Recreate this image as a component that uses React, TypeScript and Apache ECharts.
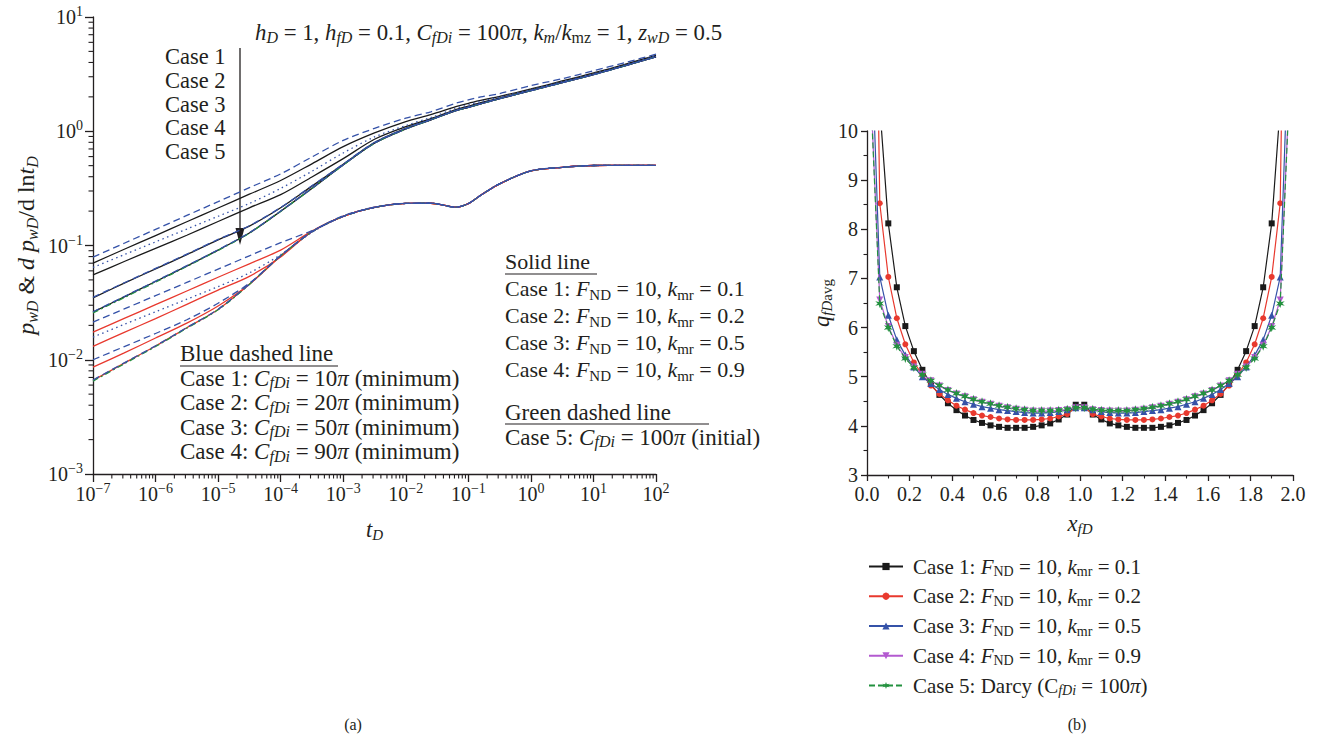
import React, { useEffect, useRef } from "react";
import * as echarts from "echarts";

// ---------------- Panel (a): log-log type curves ----------------
const tD = [1e-7, 3.16e-7, 1e-6, 3.16e-6, 1e-5, 3.16e-5, 1e-4, 3.16e-4, 1e-3, 3.16e-3, 1e-2, 2.51e-2, 6.31e-2, 1e-1, 1.58e-1, 3.16e-1, 1, 3.16, 10, 31.6, 100];

// pressure, solid black (cases 1-4)
const pSolid1 = [0.0702, 0.0927, 0.1222, 0.1614, 0.2128, 0.2812, 0.3707, 0.5188, 0.7328, 0.9661, 1.216, 1.396, 1.641, 1.758, 1.862, 2.018, 2.344, 2.754, 3.236, 3.846, 4.624];
const pSolid2 = [0.0553, 0.0724, 0.0944, 0.123, 0.1622, 0.2138, 0.2786, 0.3981, 0.5754, 0.8511, 1.096, 1.288, 1.549, 1.66, 1.778, 1.95, 2.291, 2.692, 3.162, 3.758, 4.519];
const pSolid3 = [0.0348, 0.0468, 0.0624, 0.0832, 0.1122, 0.1479, 0.2138, 0.3311, 0.5129, 0.7943, 1.059, 1.259, 1.514, 1.622, 1.738, 1.928, 2.265, 2.661, 3.126, 3.733, 4.487];
const pSolid4 = [0.0261, 0.0355, 0.0484, 0.0661, 0.0912, 0.1288, 0.1995, 0.3162, 0.507, 0.7852, 1.047, 1.259, 1.514, 1.622, 1.738, 1.928, 2.265, 2.661, 3.126, 3.733, 4.487];
// pressure, blue dashed (minimum CfDi, cases 1-4)
const pBlue1 = [0.0791, 0.1047, 0.1384, 0.1832, 0.2421, 0.3206, 0.4236, 0.5957, 0.8318, 1.059, 1.303, 1.479, 1.758, 1.884, 1.995, 2.138, 2.512, 2.884, 3.388, 3.981, 4.732];
const pBlue2 = [0.0643, 0.0832, 0.1076, 0.1393, 0.1803, 0.2333, 0.3162, 0.4467, 0.6457, 0.8913, 1.122, 1.318, 1.585, 1.698, 1.82, 1.995, 2.317, 2.723, 3.199, 3.802, 4.571];
const pBlue3 = [0.0352, 0.0472, 0.063, 0.084, 0.113, 0.149, 0.215, 0.333, 0.516, 0.797, 1.062, 1.262, 1.518, 1.626, 1.742, 1.932, 2.27, 2.667, 3.133, 3.741, 4.5];
const pBlue4 = [0.0263, 0.0358, 0.0488, 0.0666, 0.0918, 0.1296, 0.2005, 0.3175, 0.5085, 0.787, 1.049, 1.262, 1.517, 1.625, 1.741, 1.931, 2.268, 2.664, 3.13, 3.737, 4.492];
// pressure, green dashed (case 5)
const pGreen5 = [0.0257, 0.035, 0.0478, 0.0655, 0.0906, 0.1282, 0.199, 0.3155, 0.5062, 0.7845, 1.046, 1.258, 1.513, 1.621, 1.737, 1.927, 2.264, 2.66, 3.125, 3.732, 4.486];

// derivative, common late-time part (from tD = 1e-3)
const dTail = [0.1799, 0.2153, 0.2333, 0.2344, 0.2163, 0.2328, 0.2754, 0.3467, 0.4498, 0.4831, 0.5012, 0.5023, 0.5023];
const dSolid1 = [0.01746, 0.02301, 0.03034, 0.03999, 0.05272, 0.06918, 0.0912, 0.1335, ...dTail];
const dSolid2 = [0.01308, 0.01738, 0.02291, 0.03055, 0.04074, 0.0537, 0.07943, 0.1325, ...dTail];
const dSolid3 = [0.00861, 0.01148, 0.01549, 0.02089, 0.02951, 0.04571, 0.08035, 0.1318, ...dTail];
const dSolid4 = [0.00659, 0.00933, 0.01318, 0.01905, 0.02754, 0.04571, 0.08128, 0.1318, ...dTail];
const dBlue1 = [0.02133, 0.02786, 0.03639, 0.04753, 0.06209, 0.08128, 0.1059, 0.1349, 0.182, 0.2165, 0.234, 0.235, 0.2168, 0.2332, 0.2758, 0.347, 0.45, 0.4832, 0.5012, 0.5023, 0.5023];
const dBlue2 = [0.01578, 0.02042, 0.0263, 0.03388, 0.04365, 0.05754, 0.08318, 0.1303, ...dTail];
const dBlue3 = [0.01, 0.01303, 0.01698, 0.02239, 0.03126, 0.04677, 0.08128, 0.1318, ...dTail];
const dBlue4 = [0.00665, 0.0094, 0.01325, 0.01915, 0.0277, 0.0459, 0.0815, 0.132, ...dTail];
const dGreen5 = [0.0065, 0.00922, 0.01305, 0.0189, 0.0274, 0.0456, 0.0812, 0.1317, ...dTail];

// ---------------- Panel (b): flux distribution ----------------
const xfD = [0.02, 0.06, 0.1, 0.14, 0.18, 0.22, 0.26, 0.3, 0.34, 0.38, 0.42, 0.46, 0.5, 0.54, 0.58, 0.62, 0.66, 0.7, 0.74, 0.78, 0.82, 0.86, 0.9, 0.94, 0.98,
  1.02, 1.06, 1.1, 1.14, 1.18, 1.22, 1.26, 1.3, 1.34, 1.38, 1.42, 1.46, 1.5, 1.54, 1.58, 1.62, 1.66, 1.7, 1.74, 1.78, 1.82, 1.86, 1.9, 1.94, 1.98];
const qCase1 = [20.0, 10.5, 8.12, 6.82, 6.03, 5.52, 5.14, 4.85, 4.63, 4.46, 4.32, 4.21, 4.12, 4.06, 4.01, 3.98, 3.96, 3.96, 3.96, 3.98, 4.01, 4.05, 4.13, 4.23, 4.43,
  4.43, 4.23, 4.13, 4.05, 4.01, 3.98, 3.96, 3.96, 3.96, 3.98, 4.01, 4.06, 4.12, 4.21, 4.32, 4.46, 4.63, 4.85, 5.14, 5.52, 6.03, 6.82, 8.12, 10.5, 20.0];
const qCase2 = [20.3, 8.53, 7.03, 6.19, 5.66, 5.29, 5.04, 4.82, 4.65, 4.52, 4.41, 4.33, 4.26, 4.21, 4.18, 4.15, 4.13, 4.12, 4.12, 4.12, 4.13, 4.15, 4.19, 4.24, 4.37,
  4.37, 4.24, 4.19, 4.15, 4.13, 4.12, 4.12, 4.12, 4.13, 4.15, 4.18, 4.21, 4.26, 4.33, 4.41, 4.52, 4.65, 4.82, 5.04, 5.29, 5.66, 6.19, 7.03, 8.53, 20.3];
const qCase3 = [12.0, 7.03, 6.25, 5.75, 5.44, 5.2, 5.0, 4.86, 4.74, 4.64, 4.56, 4.49, 4.44, 4.39, 4.36, 4.33, 4.31, 4.29, 4.27, 4.26, 4.26, 4.27, 4.29, 4.33, 4.37,
  4.37, 4.33, 4.29, 4.27, 4.26, 4.26, 4.27, 4.29, 4.31, 4.33, 4.36, 4.39, 4.44, 4.49, 4.56, 4.64, 4.74, 4.86, 5.0, 5.2, 5.44, 5.75, 6.25, 7.03, 12.0];
const qCase4 = [10.6, 6.56, 6.02, 5.64, 5.39, 5.2, 5.05, 4.92, 4.81, 4.72, 4.65, 4.59, 4.53, 4.48, 4.44, 4.4, 4.37, 4.34, 4.32, 4.3, 4.3, 4.3, 4.31, 4.33, 4.37,
  4.37, 4.33, 4.31, 4.3, 4.3, 4.3, 4.32, 4.34, 4.37, 4.4, 4.44, 4.48, 4.53, 4.59, 4.65, 4.72, 4.81, 4.92, 5.05, 5.2, 5.39, 5.64, 6.02, 6.56, 10.6];
const qCase5 = [10.5, 6.49, 6.0, 5.62, 5.37, 5.19, 5.04, 4.92, 4.82, 4.73, 4.66, 4.6, 4.54, 4.49, 4.45, 4.41, 4.38, 4.35, 4.33, 4.31, 4.31, 4.31, 4.32, 4.34, 4.37,
  4.37, 4.34, 4.32, 4.31, 4.31, 4.31, 4.33, 4.35, 4.38, 4.41, 4.45, 4.49, 4.54, 4.6, 4.66, 4.73, 4.82, 4.92, 5.04, 5.19, 5.37, 5.62, 6.0, 6.49, 10.5];

const caseNames = ["Case 1", "Case 2", "Case 3", "Case 4", "Case 5"];
const legendLabels = [
  "{n|Case 1: }{i|F}{r|ND}{n| = 10, }{i|k}{r|mr}{n| = 0.1}",
  "{n|Case 2: }{i|F}{r|ND}{n| = 10, }{i|k}{r|mr}{n| = 0.2}",
  "{n|Case 3: }{i|F}{r|ND}{n| = 10, }{i|k}{r|mr}{n| = 0.5}",
  "{n|Case 4: }{i|F}{r|ND}{n| = 10, }{i|k}{r|mr}{n| = 0.9}",
  "{n|Case 5: Darcy (C}{s|fDi}{n| = 100}{i|π}{n|)}",
];

// ---------------- styling ----------------
const SERIF = '"Liberation Serif", "Times New Roman", Times, serif';
const INK = "#231f20";
const BLACK = "#1a1a1a";
const RED = "#e8392e";
const BLUE = "#3552a8";
const MAGENTA = "#b35ad0";
const GREEN = "#23913f";

function rich(fs: number, lh: number) {
  const sub = Math.round(fs * 0.68);
  const base = { fontFamily: SERIF, color: INK };
  return {
    n: { ...base, fontSize: fs, lineHeight: lh },
    i: { ...base, fontSize: fs, lineHeight: lh, fontStyle: "italic" },
    s: { ...base, fontSize: sub, lineHeight: lh, height: sub, fontStyle: "italic", verticalAlign: "bottom" },
    r: { ...base, fontSize: sub, lineHeight: lh, height: sub, verticalAlign: "bottom" },
    u: { ...base, fontSize: sub, lineHeight: lh, height: sub - 3, verticalAlign: "top" },
  };
}

const pairs = (xs: number[], ys: number[]) => xs.map((x, i) => [x, ys[i]]);

function leftLine(name: string, data: number[], color: string, type: any, z: number) {
  return {
    name, type: "line", xAxisIndex: 0, yAxisIndex: 0, data: pairs(tD, data),
    showSymbol: false, symbol: "none", smooth: 0.3, silent: true, z,
    lineStyle: { color, width: 1.3, type },
  };
}

function rightLine(name: string, data: number[], color: string, symbol: string, size: number, rotate: number, dashed: boolean, z: number) {
  return {
    name, type: "line", xAxisIndex: 1, yAxisIndex: 1, data: pairs(xfD, data),
    symbol, symbolSize: size, symbolRotate: rotate, showSymbol: true, silent: true, z,
    itemStyle: { color },
    lineStyle: { color, width: 1.2, type: dashed ? [6, 3] : "solid" },
  };
}

function decadeMinors(from: number, to: number) {
  const out: number[] = [];
  for (let e = from; e < to; e++) for (let k = 2; k <= 9; k++) out.push(k * Math.pow(10, e));
  return out;
}

function logLabel(v: number) {
  const e = Math.round(Math.log10(v));
  return `{b|10}{u|${e < 0 ? "\u2212" : ""}${Math.abs(e)}}`;
}

const tickRich = (() => {
  const r = rich(20, 22);
  return { b: r.n, u: r.u };
})();

const axisCommon = {
  axisLine: { onZero: false, lineStyle: { color: INK, width: 1.3 } },
  axisTick: { length: 8, lineStyle: { color: INK, width: 1.3 } },
  splitLine: { show: false },
  nameLocation: "middle",
};

function buildOption() {
  const starPath = "path://M0,-10L2,-3.46L8.66,-5L4,0L8.66,5L2,3.46L0,10L-2,3.46L-8.66,5L-4,0L-8.66,-5L-2,-3.46Z";

  const minorTickSeries = (axis: "x" | "y") => ({
    type: "custom", xAxisIndex: 0, yAxisIndex: 0, silent: true, clip: false, z: 3,
    data: axis === "x" ? decadeMinors(-7, 2).map((v) => [v, 1e-3]) : decadeMinors(-3, 1).map((v) => [1e-7, v]),
    renderItem: (params: any, api: any) => {
      const p = api.coord([api.value(0), api.value(1)]);
      const shape = axis === "x"
        ? { x1: p[0], y1: p[1], x2: p[0], y2: p[1] + 4.5 }
        : { x1: p[0] - 4.5, y1: p[1], x2: p[0], y2: p[1] };
      return { type: "line", shape, style: { stroke: INK, lineWidth: 1.1 } };
    },
  });

  const annText = (x: number, y: number, text: string, fs: number, lh: number) => ({
    type: "text", x, y, silent: true,
    style: { text, rich: rich(fs, lh), align: "left", verticalAlign: "top", fill: INK },
  });
  const uline = (x1: number, x2: number, y: number) => ({
    type: "line", silent: true, shape: { x1, y1: y, x2, y2: y }, style: { stroke: INK, lineWidth: 1.2 },
  });

  const solidRows = [
    "{n|Solid line}",
    "{n|Case 1: }{i|F}{r|ND}{n| = 10, }{i|k}{r|mr}{n| = 0.1}",
    "{n|Case 2: }{i|F}{r|ND}{n| = 10, }{i|k}{r|mr}{n| = 0.2}",
    "{n|Case 3: }{i|F}{r|ND}{n| = 10, }{i|k}{r|mr}{n| = 0.5}",
    "{n|Case 4: }{i|F}{r|ND}{n| = 10, }{i|k}{r|mr}{n| = 0.9}",
  ].join("\n");
  const blueRows = [
    "{n|Blue dashed line}",
    "{n|Case 1: }{i|C}{s|fDi}{n| = 10}{i|π}{n| (minimum)}",
    "{n|Case 2: }{i|C}{s|fDi}{n| = 20}{i|π}{n| (minimum)}",
    "{n|Case 3: }{i|C}{s|fDi}{n| = 50}{i|π}{n| (minimum)}",
    "{n|Case 4: }{i|C}{s|fDi}{n| = 90}{i|π}{n| (minimum)}",
  ].join("\n");
  const greenRows = [
    "{n|Green dashed line}",
    "{n|Case 5: }{i|C}{s|fDi}{n| = 100}{i|π}{n| (initial)}",
  ].join("\n");
  const topNote = "{i|h}{s|D}{n| = 1, }{i|h}{s|fD}{n| = 0.1, }{i|C}{s|fDi}{n| = 100}{i|π}{n|, }{i|k}{s|m}{n|/}{i|k}{r|mz}{n| = 1, }{i|z}{s|wD}{n| = 0.5}";

  const DASH = [7, 4];
  const DOT = [1.5, 3.5];
  const GDASH = [6, 3, 2, 3];

  return {
    animation: false,
    backgroundColor: "#ffffff",
    grid: [
      { left: 93, top: 17, width: 563, height: 457, outerBoundsMode: "none" },
      { left: 867, top: 131, width: 426, height: 344, outerBoundsMode: "none" },
    ],
    xAxis: [
      {
        ...axisCommon, gridIndex: 0, type: "log", logBase: 10, min: 1e-7, max: 100, splitNumber: 9,
        axisLabel: { formatter: logLabel, rich: tickRich, margin: 9 },
        name: "{i|t}{s|D}", nameGap: 42, nameTextStyle: { rich: rich(22.5, 26) },
      },
      {
        ...axisCommon, gridIndex: 1, type: "value", min: 0, max: 2, interval: 0.2,
        axisTick: { length: 6, lineStyle: { color: INK, width: 1.3 } },
        minorTick: { show: true, splitNumber: 2, length: 3.5, lineStyle: { color: INK, width: 1.1 } },
        axisLabel: { formatter: (v: number) => v.toFixed(1), fontFamily: SERIF, fontSize: 20, color: INK, margin: 9 },
        name: "{i|x}{s|fD}", nameGap: 35, nameTextStyle: { rich: rich(22.5, 26) },
      },
    ],
    yAxis: [
      {
        ...axisCommon, gridIndex: 0, type: "log", logBase: 10, min: 1e-3, max: 10, splitNumber: 4,
        axisLabel: { formatter: logLabel, rich: tickRich, margin: 10 },
        name: "{i|p}{s|wD}{n| & }{i|d p}{s|wD}{n|/d ln}{i|t}{s|D}", nameGap: 53, nameTextStyle: { rich: rich(24, 28) },
      },
      {
        ...axisCommon, gridIndex: 1, type: "value", min: 3, max: 10, interval: 1,
        axisTick: { length: 6, lineStyle: { color: INK, width: 1.3 } },
        minorTick: { show: true, splitNumber: 2, length: 3.5, lineStyle: { color: INK, width: 1.1 } },
        axisLabel: { fontFamily: SERIF, fontSize: 20, color: INK, margin: 9 },
        name: "{i|q}{s|fD}{r|avg}", nameGap: 32, nameTextStyle: { rich: rich(22.5, 26) },
      },
    ],
    legend: {
      data: caseNames,
      orient: "vertical", left: 868, top: 556, padding: 0, itemWidth: 34, itemHeight: 9, itemGap: 7.25,
      selectedMode: false,
      formatter: (name: string) => legendLabels[caseNames.indexOf(name)],
      textStyle: { rich: rich(21, 24), padding: [0, 0, 0, 5] },
    },
    series: [
      minorTickSeries("x"),
      minorTickSeries("y"),
      leftLine("pS1", pSolid1, BLACK, "solid", 4),
      leftLine("pS2", pSolid2, BLACK, "solid", 4),
      leftLine("pS3", pSolid3, BLACK, "solid", 4),
      leftLine("pS4", pSolid4, BLACK, "solid", 4),
      leftLine("dS1", dSolid1, RED, "solid", 4),
      leftLine("dS2", dSolid2, RED, "solid", 4),
      leftLine("dS3", dSolid3, RED, "solid", 4),
      leftLine("dS4", dSolid4, RED, "solid", 4),
      leftLine("pG5", pGreen5, GREEN, GDASH, 5),
      leftLine("dG5", dGreen5, GREEN, GDASH, 5),
      leftLine("pB1", pBlue1, BLUE, DASH, 6),
      leftLine("pB2", pBlue2, BLUE, DOT, 6),
      leftLine("pB3", pBlue3, BLUE, DASH, 6),
      leftLine("pB4", pBlue4, BLUE, DASH, 6),
      leftLine("dB1", dBlue1, BLUE, DASH, 6),
      leftLine("dB2", dBlue2, BLUE, DOT, 6),
      leftLine("dB3", dBlue3, BLUE, DASH, 6),
      leftLine("dB4", dBlue4, BLUE, DASH, 6),
      rightLine(caseNames[0], qCase1, BLACK, "rect", 6, 0, false, 4),
      rightLine(caseNames[1], qCase2, RED, "circle", 6, 0, false, 5),
      rightLine(caseNames[2], qCase3, BLUE, "triangle", 7, 0, false, 6),
      rightLine(caseNames[3], qCase4, MAGENTA, "triangle", 7, 180, false, 7),
      rightLine(caseNames[4], qCase5, GREEN, starPath, 9, 0, true, 8),
    ],
    graphic: [
      annText(255, 19, topNote, 22.8, 26),
      annText(165, 45, caseNames.map((c) => `{n|${c}}`).join("\n"), 22.5, 23.7),
      { type: "line", silent: true, shape: { x1: 240, y1: 48, x2: 240, y2: 232 }, style: { stroke: INK, lineWidth: 1.3 } },
      { type: "polygon", silent: true, shape: { points: [[235.5, 228], [244.5, 228], [240, 245]] }, style: { fill: INK } },
      annText(180, 341.5, blueRows, 23, 24.5),
      uline(180, 338, 366),
      annText(505, 248.5, solidRows, 22, 26.9),
      uline(505, 597, 274),
      annText(505, 399.5, greenRows, 23, 25),
      uline(505, 709, 424),
      { type: "text", x: 353, y: 724, silent: true, style: { text: "(a)", font: `16px ${SERIF}`, fill: INK, align: "center", verticalAlign: "middle" } },
      { type: "text", x: 1077, y: 724, silent: true, style: { text: "(b)", font: `16px ${SERIF}`, fill: INK, align: "center", verticalAlign: "middle" } },
    ],
  };
}

export default function App() {
  const ref = useRef<HTMLDivElement>(null);
  useEffect(() => {
    if (!ref.current) return;
    const chart = echarts.init(ref.current, undefined, { renderer: "svg" });
    chart.setOption(buildOption() as any);
    return () => chart.dispose();
  }, []);
  return (
    <div
      ref={ref}
      style={{ position: "absolute", left: 0, top: 0, width: 1322, height: 743, background: "#ffffff" }}
    />
  );
}
